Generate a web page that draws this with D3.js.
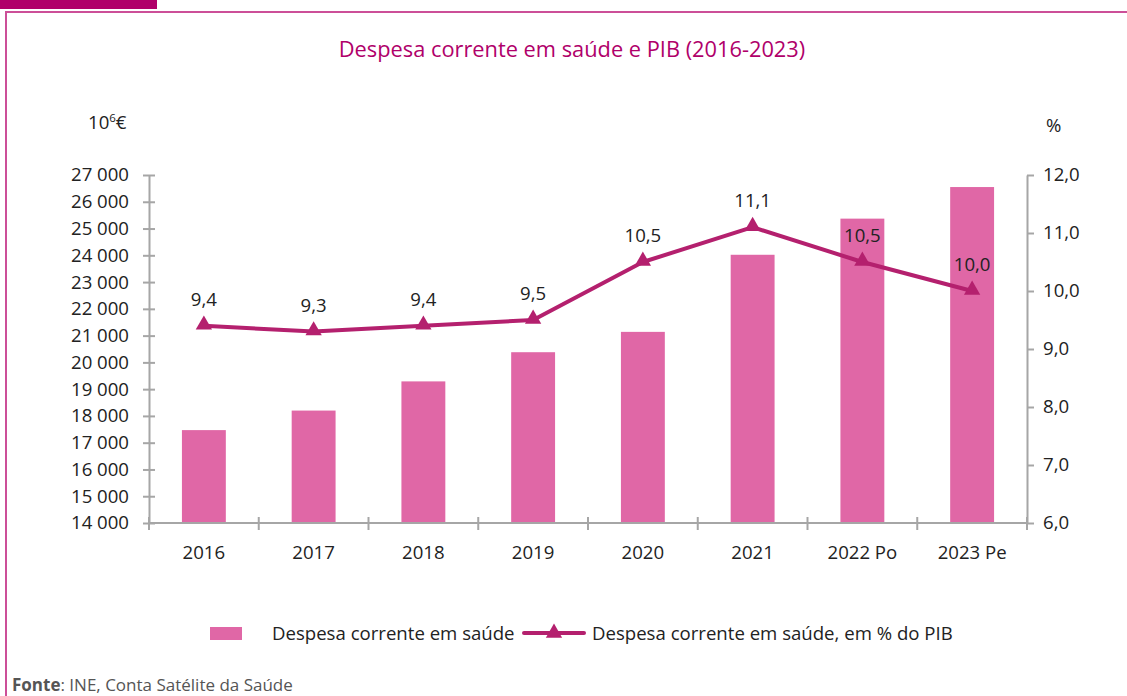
<!DOCTYPE html>
<html>
<head>
<meta charset="utf-8">
<script src="https://cdn.jsdelivr.net/npm/d3@7"></script>
<style>
  html, body { margin: 0; padding: 0; background: #fff; }
  svg { display: block; }
  text { font-family: "Open Sans", "Noto Sans", sans-serif; }
</style>
</head>
<body>
<svg id="chart" width="1127" height="696"></svg>
<script>
// Years and series
const years = ["2016", "2017", "2018", "2019", "2020", "2021", "2022 Po", "2023 Pe"];
const despesa = [17470, 18200, 19290, 20380, 21140, 24020, 25370, 26550];   // 10^6 €
const pctPIB = [9.4, 9.3, 9.4, 9.5, 10.5, 11.1, 10.5, 10.0];                 // % do PIB
const leftTicks = [14000, 15000, 16000, 17000, 18000, 19000, 20000, 21000, 22000, 23000, 24000, 25000, 26000, 27000];
const rightTicks = [6, 7, 8, 9, 10, 11, 12];

const titleText = "Despesa corrente em saúde e PIB (2016-2023)";
const seriesBarName = "Despesa corrente em saúde";
const seriesLineName = "Despesa corrente em saúde, em % do PIB";

const barColor = "#e067a6";
const lineColor = "#b4206e";
const axisColor = "#a6a6a6";
const textColor = "#222";
const fs = 18.6;

const svg = d3.select("#chart");

// Frame: top band and pink border
svg.append("rect").attr("x", 0).attr("y", 0).attr("width", 157).attr("height", 9).attr("fill", "#b0006a");
svg.append("path")
  .attr("d", "M6,696 V12 H1127")
  .attr("fill", "none").attr("stroke", "#cc4f98").attr("stroke-width", 2);

// Title
svg.append("text")
  .attr("x", 572).attr("y", 57)
  .attr("text-anchor", "middle")
  .attr("font-size", 21.8)
  .attr("fill", "#b0006a")
  .text(titleText);

// Plot area
const x0 = 149, x1 = 1027, yTop = 175, yBot = 523;

const x = d3.scaleBand().domain(years).range([x0, x1]).paddingInner(0.6).paddingOuter(0.3);
const xCenter = d => x(d) + x.bandwidth() / 2;
const yL = d3.scaleLinear().domain([14000, 27000]).range([yBot, yTop]);
const yR = d3.scaleLinear().domain([6, 12]).range([yBot, yTop]);

const fmtLeft = d => d3.format(",")(d).replace(/,/g, " ");
const fmtPct = d => d3.format(".1f")(d).replace(".", ",");

// Bars
svg.append("g").selectAll("rect")
  .data(years)
  .join("rect")
  .attr("x", d => x(d))
  .attr("width", x.bandwidth())
  .attr("y", (d, i) => yL(despesa[i]))
  .attr("height", (d, i) => yBot - yL(despesa[i]))
  .attr("fill", barColor);

// Left axis
const gL = svg.append("g").attr("transform", `translate(${x0},0)`)
  .call(d3.axisLeft(yL).tickValues(leftTicks).tickFormat(fmtLeft).tickSize(6).tickSizeOuter(0).tickPadding(14));
gL.select(".domain").attr("stroke", axisColor).attr("stroke-width", 2);
gL.selectAll(".tick line").attr("stroke", axisColor).attr("stroke-width", 2).attr("x1", 6);
gL.selectAll(".tick text").attr("font-size", fs).attr("fill", textColor)
  .attr("font-family", "'Open Sans', sans-serif");

// Right axis
const gR = svg.append("g").attr("transform", `translate(${x1},0)`)
  .call(d3.axisRight(yR).tickValues(rightTicks).tickFormat(fmtPct).tickSize(7).tickSizeOuter(0).tickPadding(9));
gR.select(".domain").attr("stroke", axisColor).attr("stroke-width", 2);
gR.selectAll(".tick line").attr("stroke", axisColor).attr("stroke-width", 2);
gR.selectAll(".tick text").attr("font-size", fs).attr("fill", textColor)
  .attr("font-family", "'Open Sans', sans-serif");

// Bottom axis with category boundary ticks
const gB = svg.append("g").attr("transform", `translate(0,${yBot})`);
gB.append("line").attr("x1", x0).attr("x2", x1).attr("y1", 0).attr("y2", 0)
  .attr("stroke", axisColor).attr("stroke-width", 2);
const bounds = d3.range(years.length + 1).map(i => x0 + i * (x1 - x0) / years.length);
gB.selectAll("line.bt").data(bounds).join("line").attr("class", "bt")
  .attr("x1", d => d).attr("x2", d => d).attr("y1", -6).attr("y2", 7)
  .attr("stroke", axisColor).attr("stroke-width", 2);
gB.selectAll("text").data(years).join("text")
  .attr("x", d => xCenter(d)).attr("y", 36)
  .attr("text-anchor", "middle").attr("font-size", fs).attr("fill", textColor)
  .text(d => d);

// Unit labels
const unit = svg.append("text").attr("x", 88).attr("y", 129).attr("font-size", fs).attr("fill", textColor);
unit.append("tspan").text("10");
unit.append("tspan").attr("font-size", 11.5).attr("dy", -7).text("6");
unit.append("tspan").attr("dy", 7).text("€");
svg.append("text").attr("x", 1046).attr("y", 132).attr("font-size", fs).attr("fill", textColor).text("%");

// Line series
const line = d3.line().x((d, i) => xCenter(years[i])).y(d => yR(d));
svg.append("path").datum(pctPIB)
  .attr("d", line).attr("fill", "none")
  .attr("stroke", lineColor).attr("stroke-width", 4).attr("stroke-linejoin", "round");

const tri = d3.symbol().type(d3.symbolTriangle).size(115);
svg.append("g").selectAll("path").data(pctPIB).join("path")
  .attr("transform", (d, i) => `translate(${xCenter(years[i])},${yR(d) - 1})`)
  .attr("d", tri).attr("fill", lineColor);

svg.append("g").selectAll("text").data(pctPIB).join("text")
  .attr("x", (d, i) => xCenter(years[i]))
  .attr("y", d => yR(d) - 20)
  .attr("text-anchor", "middle").attr("font-size", fs).attr("fill", textColor)
  .text(d => fmtPct(d));

// Legend
const lg = svg.append("g");
lg.append("rect").attr("x", 210).attr("y", 627).attr("width", 32).attr("height", 13).attr("fill", barColor);
lg.append("text").attr("x", 272).attr("y", 640).attr("font-size", fs).attr("fill", textColor).text(seriesBarName);
lg.append("line").attr("x1", 524).attr("x2", 584).attr("y1", 633).attr("y2", 633)
  .attr("stroke", lineColor).attr("stroke-width", 4).attr("stroke-linecap", "round");
lg.append("path").attr("transform", "translate(554,633)").attr("d", tri).attr("fill", lineColor);
lg.append("text").attr("x", 592).attr("y", 640).attr("font-size", fs).attr("fill", textColor).text(seriesLineName);

// Source note
const src = svg.append("text").attr("x", 12).attr("y", 691).attr("font-size", 17).attr("fill", "#555");
src.append("tspan").attr("font-weight", "bold").text("Fonte");
src.append("tspan").text(": INE, Conta Satélite da Saúde");
</script>
</body>
</html>
